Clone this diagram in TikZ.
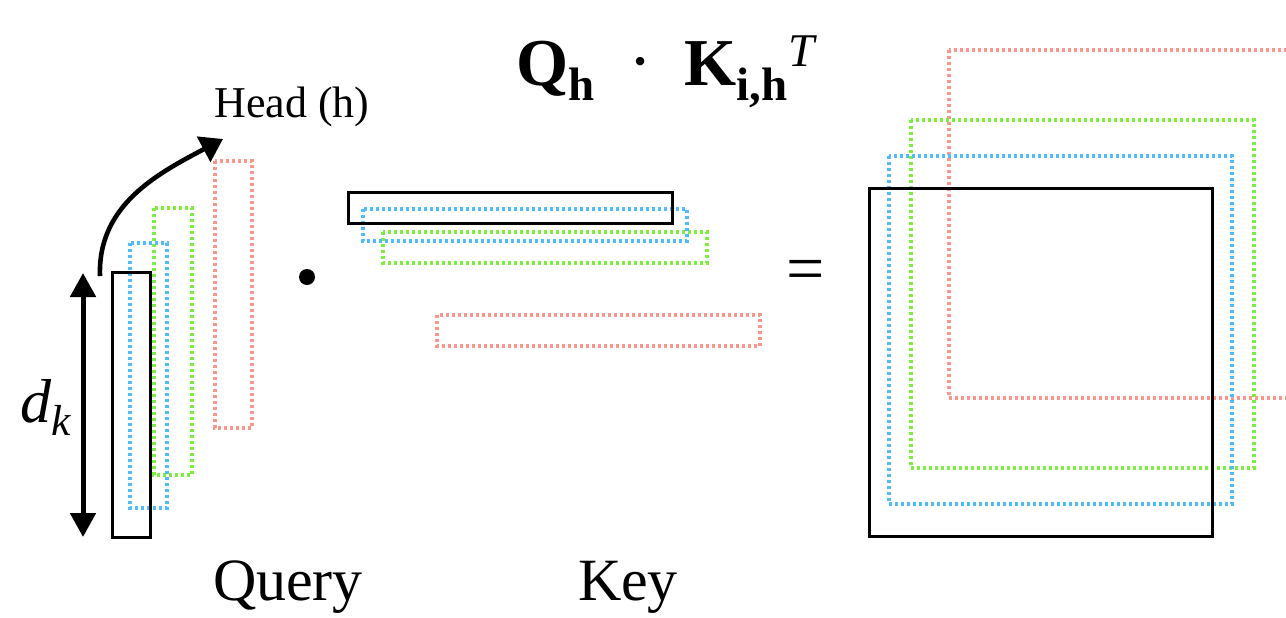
\documentclass[tikz,border=0pt]{standalone}
\usepackage{fontspec}
\setmainfont{Liberation Serif}
\usetikzlibrary{arrows.meta}

\definecolor{headred}{RGB}{252,150,140}
\definecolor{headblue}{RGB}{80,188,252}
\definecolor{headgreen}{RGB}{124,238,62}

\begin{document}
\begin{tikzpicture}[x=0.5pt, y=-0.5pt,
        solidbox/.style={draw=black, line width=1.5pt},
        dotbox/.style={line width=1.6pt, dash pattern=on 1.5pt off 1.5pt},
        redbox/.style={dotbox, draw=headred},
        bluebox/.style={dotbox, draw=headblue},
        greenbox/.style={dotbox, draw=headgreen},
        arrow/.style={-{Triangle[length=11pt, width=14pt]}, line width=2.3pt},
        dimarrow/.style={{Triangle[length=12pt, width=12.5pt]}-{Triangle[length=12pt, width=12.5pt]}, line width=2.5pt},
        label/.style={inner sep=0pt, anchor=base}
    ]
    \clip (0,0) rectangle (1286,617);

    % title
    \node[label] (title) at (666,85) {\fontsize{33.5}{38}\selectfont\bfseries Q\textsubscript{h}\ \ \raisebox{0.1ex}{\scalebox{1.6}{$\cdot$}}\ \ K\textsubscript{i,h}\textsuperscript{\mdseries\itshape T}};

    % query
    \draw[redbox]   (215,161) rectangle (252,428);
    \draw[greenbox] (154,208) rectangle (192,475);
    \draw[bluebox]  (130,243) rectangle (167,508);
    \draw[solidbox] (112,272) rectangle (150,537);
    \node[label] (query) at (288,600) {\fontsize{30}{36}\selectfont Query};

    \coordinate (dktop) at (83,273);
    \coordinate (dkbot) at (83,537);
    \draw[dimarrow] (dktop) -- (dkbot);
    \node[inner sep=0pt] (dk) at (46,407) {\fontsize{31}{36}\selectfont\itshape d\textsubscript{k}};

    \coordinate (headstart) at (100,276);
    \node[label] (head) at (292,117) {\fontsize{22}{26}\selectfont Head (h)};
    \coordinate (headtip) at (223,139);
    \draw[arrow] (headstart) to[out=92, in=208] (headtip);

    % operators
    \node[circle, fill=black, inner sep=0pt, minimum size=8pt] (dotop) at (307,277) {};
    \node[inner sep=0pt] (eqop) at (806,276) {\fontsize{34}{40}\selectfont =};

    % key
    \draw[redbox]   (437,315) rectangle (760,346);
    \draw[greenbox] (383,232) rectangle (707,263);
    \draw[bluebox]  (363,209) rectangle (687,241);
    \draw[solidbox] (348,192) rectangle (672,223);
    \node[label] (key) at (628,600) {\fontsize{30}{36}\selectfont Key};

    % result
    \draw[redbox]   (949,50)  rectangle (1292,398);
    \draw[greenbox] (911,120) rectangle (1254,468);
    \draw[bluebox]  (889,156) rectangle (1232,504);
    \draw[solidbox] (869,188) rectangle (1212,536);
\end{tikzpicture}
\end{document}
